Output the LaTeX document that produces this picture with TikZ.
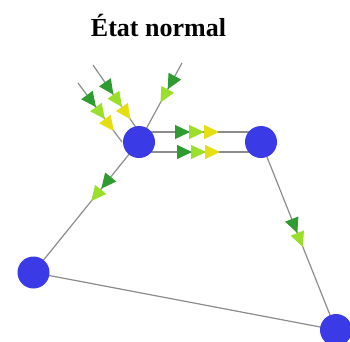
\documentclass[tikz,border=0pt]{standalone}
\usepackage{fontspec}
\setmainfont{Liberation Serif}
\usetikzlibrary{arrows.meta, backgrounds, decorations.markings}
\definecolor{bleuroi}{HTML}{3A3AE6}
\definecolor{vertfonce}{HTML}{2E9C2E}
\definecolor{vertclair}{HTML}{9ADF2A}
\definecolor{jaunevif}{HTML}{E4DE12}
\definecolor{grismoyen}{HTML}{8C8C8C}
\colorlet{colNoeud}{bleuroi}
\colorlet{colArete}{grismoyen}
\colorlet{colFluxA}{vertfonce}
\colorlet{colFluxB}{vertclair}
\colorlet{colFluxC}{jaunevif}
\tikzset{
  pointeFlux/.tip={Triangle[length=15pt, width=14pt]},
  noeudReseau/.style={circle, fill=colNoeud, minimum size=32pt, inner sep=0pt},
  arete/.style={draw=colArete, line width=1.2pt},
  fluxDouble/.style 2 args={postaction={decorate}, decoration={markings,
      mark=at position #1 with {\arrow[colFluxA]{pointeFlux}},
      mark=at position #2 with {\arrow[colFluxB]{pointeFlux}}}},
  fluxTriple/.style n args={3}{postaction={decorate}, decoration={markings,
      mark=at position #1 with {\arrow[colFluxA]{pointeFlux}},
      mark=at position #2 with {\arrow[colFluxB]{pointeFlux}},
      mark=at position #3 with {\arrow[colFluxC]{pointeFlux}}}},
  titre/.style={font=\fontsize{26}{30}\selectfont\bfseries, anchor=base},
}

\begin{document}
\begin{tikzpicture}[x=1pt, y=-1pt]
    \useasboundingbox (0,0) rectangle (350,341);
    \node[titre] (titre) at (158.5,36.7) {État normal};

    \node[noeudReseau] (a) at (139,142) {};
    \node[noeudReseau] (b) at (261,142) {};
    \node[noeudReseau] (c) at (33.5,272.5) {};
    \node[noeudReseau] (d) at (336,330) {};
    \coordinate (entree1) at (93,65);
    \coordinate (entree2) at (78,83);
    \coordinate (entree3) at (182,63);

    \begin{scope}[on background layer]
      \draw[arete, fluxTriple={36pt}{51pt}{66pt}] (entree1) -- ([xshift=7pt]a.center);
      \draw[arete, fluxTriple={30pt}{45pt}{60pt}] (entree2) -- ([xshift=-17pt]a.center);
      \draw[arete, fluxDouble={30pt}{45pt}] (entree3) -- (a.center);
      \draw[arete, fluxTriple={51pt}{65pt}{80pt}] ([yshift=10pt]a.center) -- ([yshift=10pt]b.center);
      \draw[arete, fluxTriple={53pt}{67pt}{81pt}] ([yshift=-10pt]a.center) -- ([yshift=-10pt]b.center);
      \draw[arete, fluxDouble={60pt}{76pt}] (a.center) -- (c.center);
      \draw[arete, fluxDouble={98pt}{113pt}] (b.center) -- (d.center);
      \draw[arete] (c.center) -- (d.center);
    \end{scope}
  \end{tikzpicture}
\end{document}
